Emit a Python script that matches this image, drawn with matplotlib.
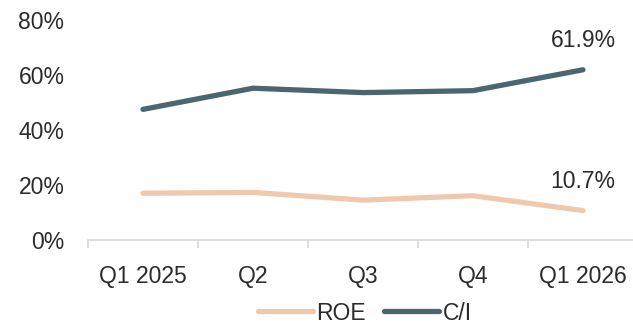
import numpy as np
import matplotlib
matplotlib.use('Agg')
import matplotlib.pyplot as plt
from matplotlib.ticker import FixedLocator, PercentFormatter

# ==============================================================================
# Data
#
quarters = ['Q1 2025', 'Q2', 'Q3', 'Q4', 'Q1 2026']
roe = [17.0, 17.3, 14.5, 16.1, 10.7]
cost_income = [47.5, 55.2, 53.6, 54.3, 61.9]

# ==============================================================================
# Style
#
ROE_COLOR = '#efc9ae'
CI_COLOR = '#4a6670'
TEXT_COLOR = '#2b2b2b'
AXIS_COLOR = '#d9d9d9'
FONT_SIZE = 16.5

plt.rcParams['font.family'] = ['Liberation Sans', 'DejaVu Sans']

# ==============================================================================
# Plot
#
fig = plt.figure(figsize=(6.33, 3.23), dpi=100)
ax = fig.add_axes([88/633, 83/323, 545/633, 220/323])

x = np.arange(len(quarters))
ax.plot(x, roe, color=ROE_COLOR, linewidth=3.8, solid_capstyle='round', label='ROE')
ax.plot(x, cost_income, color=CI_COLOR, linewidth=3.8, solid_capstyle='round', label='C/I')

# value labels on the last point
for series in (cost_income, roe):
    ax.annotate('%.1f%%' % series[-1], (x[-1], series[-1]),
                xytext=(0, 13), textcoords='offset points', ha='center', va='bottom',
                fontsize=FONT_SIZE, color=TEXT_COLOR)

ax.set_xlim(-0.5, 4.455)
ax.set_ylim(0, 80)
ax.set_yticks([0, 20, 40, 60, 80])
ax.yaxis.set_major_formatter(PercentFormatter(decimals=0))
ax.set_xticks(x)
ax.set_xticklabels(quarters)
ax.xaxis.set_minor_locator(FixedLocator([-0.5, 0.5, 1.5, 2.5, 3.5]))

for side in ['top', 'right', 'left']:
    ax.spines[side].set_visible(False)
ax.spines['bottom'].set_color(AXIS_COLOR)
ax.spines['bottom'].set_linewidth(1.2)

ax.tick_params(axis='x', which='major', length=0, pad=18,
               labelsize=FONT_SIZE, labelcolor=TEXT_COLOR)
ax.tick_params(axis='x', which='minor', length=6, width=1.2, color=AXIS_COLOR)
ax.tick_params(axis='y', length=0, pad=17, labelsize=FONT_SIZE, labelcolor=TEXT_COLOR)

fig.legend(loc='center', bbox_to_anchor=(365/633, 1 - 313/323), ncol=2,
           frameon=False, fontsize=FONT_SIZE, handlelength=2.4,
           handletextpad=0.15, columnspacing=0.8, labelcolor=TEXT_COLOR,
           borderpad=0, bbox_transform=fig.transFigure)

fig.savefig('out.png', dpi=100)
